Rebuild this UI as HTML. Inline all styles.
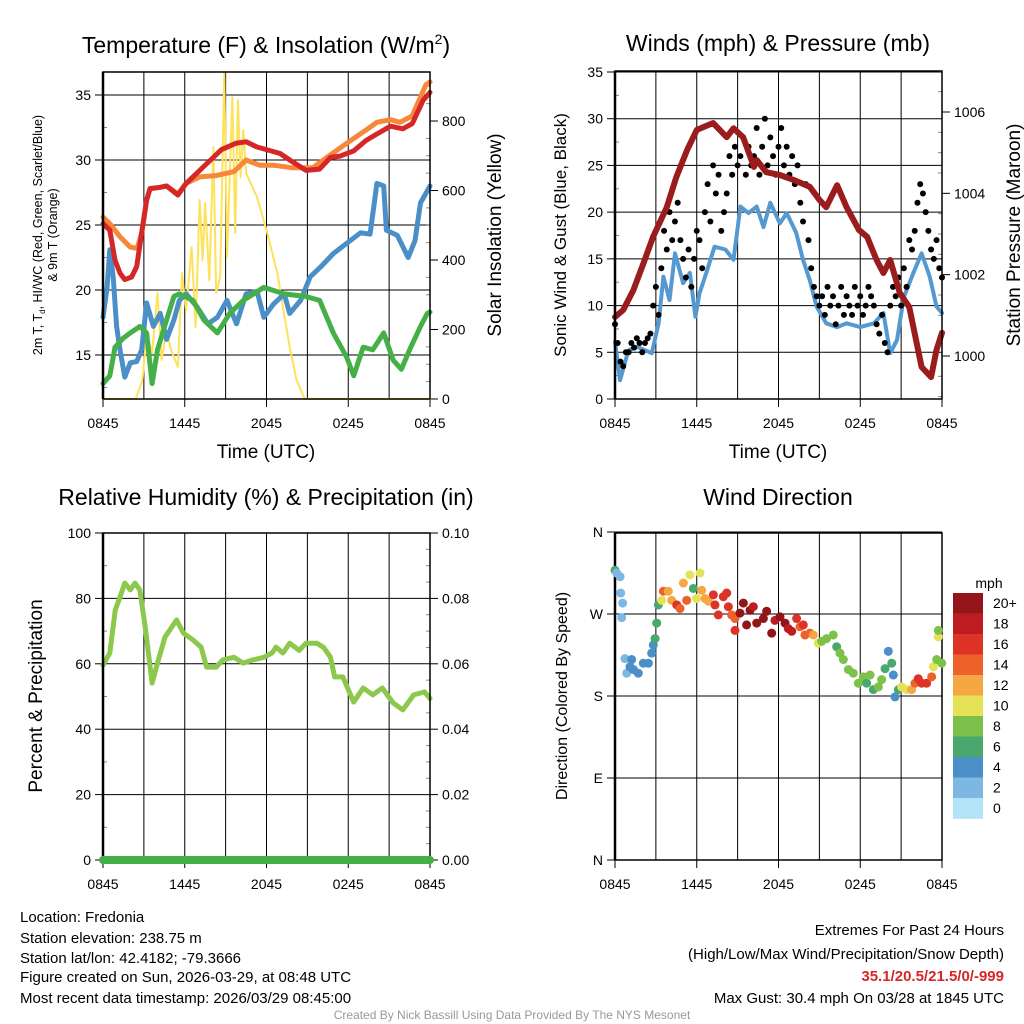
<!DOCTYPE html>
<html><head><meta charset="utf-8"><style>
html,body{margin:0;padding:0;background:#fff;}
svg{display:block;font-family:"Liberation Sans",Arial,sans-serif;}
</style></head><body>
<svg id="c" width="1024" height="1024" viewBox="0 0 1024 1024" xmlns="http://www.w3.org/2000/svg">
<g id="text">
<text x="266" y="53" font-size="23" text-anchor="middle">Temperature (F) &amp; Insolation (W/m<tspan font-size="14" dy="-9">2</tspan><tspan dy="9">)</tspan></text>
<text x="778" y="51" font-size="23" text-anchor="middle">Winds (mph) &amp; Pressure (mb)</text>
<text x="266" y="505" font-size="23" text-anchor="middle">Relative Humidity (%) &amp; Precipitation (in)</text>
<text x="778" y="505" font-size="23" text-anchor="middle">Wind Direction</text>
<text x="266" y="458" font-size="19" text-anchor="middle">Time (UTC)</text>
<text x="778" y="458" font-size="19" text-anchor="middle">Time (UTC)</text>
<text transform="translate(42,235) rotate(-90)" font-size="12.5" text-anchor="middle">2m T, T<tspan font-size="8" dy="3">d</tspan><tspan dy="-3">, HI/WC (Red, Green, Scarlet/Blue)</tspan></text>
<text transform="translate(57,235) rotate(-90)" font-size="12.5" text-anchor="middle">&amp; 9m T (Orange)</text>
<text transform="translate(501,235) rotate(-90)" font-size="19" text-anchor="middle">Solar Insolation (Yellow)</text>
<text transform="translate(566,235) rotate(-90)" font-size="17" text-anchor="middle">Sonic Wind &amp; Gust (Blue, Black)</text>
<text transform="translate(1020,235) rotate(-90)" font-size="19" text-anchor="middle">Station Pressure (Maroon)</text>
<text transform="translate(42,696) rotate(-90)" font-size="19" text-anchor="middle">Percent &amp; Precipitation</text>
<text transform="translate(567,696) rotate(-90)" font-size="16" text-anchor="middle">Direction (Colored By Speed)</text>
<text x="989" y="588" font-size="14" text-anchor="middle">mph</text>
<g font-size="15">
<text x="20" y="922">Location: Fredonia</text>
<text x="20" y="943">Station elevation: 238.75 m</text>
<text x="20" y="963">Station lat/lon: 42.4182; -79.3666</text>
<text x="20" y="982">Figure created on Sun, 2026-03-29, at 08:48 UTC</text>
<text x="20" y="1003">Most recent data timestamp: 2026/03/29 08:45:00</text>
</g>
<g font-size="15" text-anchor="end">
<text x="1004" y="935">Extremes For Past 24 Hours</text>
<text x="1004" y="959">(High/Low/Max Wind/Precipitation/Snow Depth)</text>
<text x="1004" y="981" fill="#d62728" font-weight="bold">35.1/20.5/21.5/0/-999</text>
<text x="1004" y="1003">Max Gust: 30.4 mph On 03/28 at 1845 UTC</text>
</g>
<text x="512" y="1019" font-size="12" fill="#999" text-anchor="middle">Created By Nick Bassill Using Data Provided By The NYS Mesonet</text>
</g>
</svg>
<script>
// ---- data (hours since 0845 UTC) ----
var xTickLabels=["0845","1445","2045","0245","0845"];
var redT_h=[0,0.5,0.88,1.25,1.6,2.1,2.47,2.84,3.2,3.45,4.2,4.67,5.5,6.1,6.9,7.9,8.7,9.8,10.5,11.3,12,13,13.7,14.9,15.9,16.7,17.4,18.4,19.3,20.1,21.1,22,22.7,23.5,24];
var redT_v=[25.1,24.6,22.3,21.3,20.8,21,21.8,24.4,26.9,27.8,27.9,28,27.3,28.2,29,30,30.8,31.3,31.4,31,30.8,30.5,30,29.2,29.3,30.2,30.3,30.7,31.5,32,32.6,32.4,32.8,34.6,35.2];
var orgT_h=[0,0.5,1.25,2,2.5,2.84,3.2,3.45,4.2,4.67,5.5,6.1,7.1,8.3,9.6,10.5,11.5,12.5,13.9,15.4,16.7,17.9,19.3,20.1,21.1,21.8,22.7,23.7,24];
var orgT_v=[25.6,25.1,24.1,23.3,23.2,24.4,26.9,27.8,27.9,28,27.4,28.2,28.7,28.8,29.1,30,29.6,29.6,29.4,29.4,30.4,31.3,32.3,32.9,33.1,32.9,33.4,35.8,36];
var blue_h=[0,0.3,0.5,0.75,1,1.25,1.6,2,2.47,2.84,3.2,3.7,4.2,4.67,5.2,5.6,6.1,6.9,7.7,8.4,9.1,9.8,10.5,11.3,11.8,12.5,13.3,13.7,14.5,15.2,16,16.9,17.9,18.9,19.6,20.1,20.6,20.8,21.6,22.4,22.9,23.3,24];
var blue_v=[17.9,20.2,23.1,21,17.2,15.4,13.3,14.4,14.5,15.4,19,17.2,18.2,16.2,17.7,19.2,19.7,18.7,17.4,17.9,19.2,17.4,19.7,19.9,17.9,18.9,19.7,18.2,19.2,21,21.8,22.8,23.6,24.4,24.3,28.2,28,24.6,24.2,22.5,23.8,26.7,28];
var green_h=[0,0.5,0.88,1.5,2,2.7,3.2,3.6,4,4.67,5.2,5.6,6.6,7.4,8.4,9.3,10.3,11.8,13.3,14.9,15.9,16.9,17.9,18.4,19.1,19.8,20.6,21.3,21.9,22.5,23.3,23.8,24];
var green_v=[12.8,13.4,15.6,16.3,16.7,17.2,16.7,12.8,15.4,17.7,19.5,19.7,19.2,17.7,16.7,18.2,19.2,20.2,19.7,19.5,19.2,16.7,14.8,13.4,15.6,15.4,16.7,14.6,13.9,15.4,17.2,18.2,18.3];
var sol_h=[0,2.4,2.9,3.2,3.6,4,4.3,4.67,5,5.5,5.8,6.1,6.5,6.8,7.1,7.3,7.5,7.8,8.1,8.3,8.6,8.9,9.1,9.5,9.7,9.9,10.1,10.3,10.5,11.3,12,12.8,13.2,13.7,14.2,14.8,24];
var sol_v=[0,0,55,190,132,305,112,198,141,92,362,256,437,207,573,400,564,342,725,305,351,938,409,869,478,860,639,774,650,581,486,362,265,150,55,0,0];
var wind_h=[0,0.37,0.98,1.6,2.7,3.2,3.55,4,4.4,5,5.5,5.9,6.2,6.7,7.3,8.1,8.7,9.2,9.8,10.4,10.9,11.4,12.1,12.6,13.3,13.8,14.3,14.8,15.5,16.3,17,18,19,19.7,20.2,20.7,21.2,21.9,22.5,23.1,23.6,24];
var wind_v=[6.1,2,5.2,5.6,4.9,8.1,13.1,10.6,15.6,12.4,13.5,8.8,11.3,13.5,16.3,16,14.9,20.6,19.9,20.6,18.4,21,18.8,19.9,17.8,14.9,12.7,9.9,8.1,7.7,8.1,7.7,8.1,9.2,4.9,6.3,10.9,13.5,15.6,13.1,9.9,9.2];
var pres_h=[0,0.6,1.35,2.1,2.8,3.8,4.5,5.3,6,7.2,8.2,8.7,9.4,10.2,10.4,11.1,12.1,13.1,14.3,15,15.5,16.3,17,17.9,18.5,19.2,19.7,20.2,20.9,21.6,22.5,23.2,23.6,24];
var pres_v=[1000.96,1001.13,1001.62,1002.29,1002.93,1003.66,1004.4,1005.07,1005.56,1005.73,1005.38,1005.6,1005.38,1004.65,1004.82,1004.52,1004.45,1004.33,1004.16,1003.84,1003.66,1004.2,1003.66,1003.1,1002.93,1002.36,1002.04,1002.36,1001.55,1001.2,999.73,999.48,1000.15,1000.57];
var gust_v=[8,6,4,3.5,5,5,6,5.5,6.5,6,5,6,6.5,7,10,12,9,14,18,16,20,17,19,21,17,15,13,16,12,15,18,17,14,20,23,19,25,22,24,18,20,22,26,24,27,25,26,28,24,27,25,26,29,24,27,30,25,28,26,24,27,29,25,27,24,26,23,25,21,19,23,17,14,12,11,10,11,9,12,10,11,8,10,12,9,11,10,9,12,10,11,9,10,12,11,10,8,7,9,6,5,10,12,11,13,10,14,12,17,16,18,21,23,22,20,18,16,15,17,14,13];
var rh_h=[0,0.5,0.9,1.25,1.6,2,2.35,2.7,3.1,3.6,4,4.55,5.4,5.9,6.6,7.2,7.6,8.3,8.8,9.6,10.3,11,11.8,12.4,12.7,13.2,13.7,14.4,14.9,15.7,16.2,16.7,17,17.6,18.4,19.1,19.8,20.5,21.3,22,22.8,23.6,24];
var rh_v=[59.6,63.3,76.5,80.4,84.7,82.6,84.7,82.6,71.3,54.1,60.2,68.2,73.4,69.4,67.3,65.1,59,59,61.2,62,60.2,61.2,62,63.3,65.1,63.3,66.3,64.1,66.3,66.3,65,62,56,56,48.3,52.6,50.5,52.6,48,45.9,50.5,51.4,49.4];
var precip_v=[0,0];
var dir_h=[0,0.12,0.37,0.42,0.56,0.49,0.73,0.86,1.22,1.1,1.35,1.71,2.08,2.45,2.69,2.81,2.94,3.06,3.18,3.43,3.55,3.91,4.16,4.53,4.77,5.02,5.26,5.5,5.75,5.99,6.24,6.36,6.61,6.85,7.22,7.34,7.58,7.95,8.2,8.32,8.56,8.81,8.81,9.17,9.42,9.66,9.91,10.15,10.4,10.89,11.13,11.5,11.74,12.11,12.48,12.72,12.97,13.33,13.58,13.82,13.94,14.31,14.56,14.92,15.17,15.53,16.02,16.27,16.51,16.76,17.13,17.49,17.86,18.23,18.47,18.72,18.96,19.33,19.57,19.82,20.06,20.31,20.43,20.55,20.8,21.04,21.41,21.77,22.02,22.26,22.51,22.87,23.24,23.36,23.61,23.73,23.73,23.98];
var dir_deg=[318,315,311,293,282,266,221,205,220,212,209,205,216,216,227,236,243,260,280,285,295,295,285,280,276,304,285,313,298,287,315,296,287,284,291,280,269,289,293,278,269,265,252,271,282,258,274,278,260,265,273,249,263,267,260,254,251,265,256,258,247,249,247,238,240,243,247,234,227,220,209,205,194,201,194,203,187,190,198,210,229,216,203,179,187,190,187,187,194,199,194,194,201,212,220,245,252,216];
var dir_spd=[7,3,3,3,3,3,3,3,5,5,5,5,5,5,5,5,7,7,7,11,15,13,13,17,15,13,15,11,7,11,11,13,13,13,17,17,17,17,17,17,15,15,17,21,21,21,21,19,21,21,21,21,19,21,21,19,19,17,15,17,15,15,13,11,9,9,9,7,9,9,9,9,9,9,7,9,7,9,9,7,5,7,5,5,7,11,11,13,15,17,17,17,15,11,9,11,9,9];
var cbLabels=["20+","18","16","14","12","10","8","6","4","2","0"];
var cbColors=["#931519","#bd1c23","#dc3326","#ee6128","#f5a742","#e6e257","#7cc24a","#4aa86f","#4a8fc7","#7db8e3","#b3e3f7"];

var NS="http://www.w3.org/2000/svg", svg=document.getElementById('c');
function mk(tag,attrs,parent){var e=document.createElementNS(NS,tag);for(var k in attrs)e.setAttribute(k,attrs[k]);(parent||svg).appendChild(e);return e;}
function lin(d0,d1,r0,r1){return function(v){return r0+(v-d0)*(r1-r0)/(d1-d0);};}
function path(xs,ys,fx,fy){var d='';for(var i=0;i<xs.length;i++)d+=(i?'L':'M')+fx(xs[i]).toFixed(1)+','+fy(ys[i]).toFixed(1);return d;}

function frame(x0,x1,y0,y1,name){
  var g=mk('g',{});
  
  
  var fx=lin(0,24,x0,x1);
  for(var h=3;h<24;h+=3){var l=mk('line',{x1:fx(h),x2:fx(h),y1:y0,y2:y1,stroke:'#000','stroke-width':1},g);
    
    }
  for(var i=0;i<xTickLabels.length;i++){var h2=i*6;
    var t=mk('text',{x:fx(h2),y:y1+29,'font-size':14,'text-anchor':'middle'},g);t.textContent=xTickLabels[i];
    
    
    mk('line',{x1:fx(h2),x2:fx(h2),y1:y1,y2:y1+8,stroke:'#000'},g);}
  return {g:g,fx:fx};
}
function box(x0,x1,y0,y1){var r=mk('rect',{x:x0,y:y0,width:x1-x0,height:y1-y0,fill:'none',stroke:'#000','stroke-width':1.5});
  
  
  mk('line',{x1:x0,x2:x0,y1:y0,y2:y1,stroke:'#000','stroke-width':2.5});}
function yAxis(g,vals,labels,fy,x0,x1,side,grid,minor){
  if(minor)for(var j=0;j<minor.length;j++){var yy=fy(minor[j]);
    if(side==='left')mk('line',{x1:x0,x2:x0+4,y1:yy,y2:yy,stroke:'#888'},g);else mk('line',{x1:x1,x2:x1-4,y1:yy,y2:yy,stroke:'#888'},g);}
  for(var i=0;i<vals.length;i++){var y=fy(vals[i]);
    if(grid)mk('line',{x1:x0,x2:x1,y1:y,y2:y,stroke:'#000','stroke-width':1},g);
    var t;
    if(side==='left'){mk('line',{x1:x0-8,x2:x0,y1:y,y2:y,stroke:'#000'},g);t=mk('text',{x:x0-12,y:y+5,'font-size':14,'text-anchor':'end'},g);}
    else{mk('line',{x1:x1,x2:x1+8,y1:y,y2:y,stroke:'#000'},g);t=mk('text',{x:x1+12,y:y+5,'font-size':14,'text-anchor':'start'},g);}
    t.textContent=labels[i];
    
    }
}
function series(d,color,w,name,g){var p=mk('path',{d:d,fill:'none',stroke:color,'stroke-width':w,'stroke-linejoin':'round','stroke-linecap':'round'},g);
  
  }

// Panel 1
(function(){var x0=103,x1=430,y0=72,y1=399;var F=frame(x0,x1,y0,y1,'temperature-panel');
 var fy=lin(15,35,355,95), fs=lin(0,800,399,121);
 yAxis(F.g,[15,20,25,30,35],['15','20','25','30','35'],fy,x0,x1,'left',true,[12.5,17.5,22.5,27.5,32.5]);
 yAxis(F.g,[0,200,400,600,800],['0','200','400','600','800'],fs,x0,x1,'right',false,[50,100,150,250,300,350,450,500,550,650,700,750,850,900]);
 series(path(sol_h,sol_v,F.fx,fs),'#fde25a',2,'insolation-line');
 series(path(blue_h,blue_v,F.fx,fy),'#4a8fc7',5,'heat-index-line');
 series(path(green_h,green_v,F.fx,fy),'#45b048',5,'dewpoint-line');
 series(path(orgT_h,orgT_v,F.fx,fy),'#f7883a',5,'temp-9m-line');
 series(path(redT_h,redT_v,F.fx,fy),'#d62728',5,'temp-2m-line');
 box(x0,x1,y0,y1);})();

// Panel 2
(function(){var x0=615,x1=942,y0=71,y1=399;var F=frame(x0,x1,y0,y1,'winds-panel');
 var fy=lin(0,35,399,72), fp=lin(1000,1006,356,112);
 yAxis(F.g,[0,5,10,15,20,25,30,35],['0','5','10','15','20','25','30','35'],fy,x0,x1,'left',true,[2.5,7.5,12.5,17.5,22.5,27.5,32.5]);
 yAxis(F.g,[1000,1002,1004,1006],['1000','1002','1004','1006'],fp,x0,x1,'right',false,[999,999.5,1000.5,1001,1001.5,1002.5,1003,1003.5,1004.5,1005,1005.5,1006.5,1007]);
 series(path(wind_h,wind_v,F.fx,fy),'#5599d0',4,'sonic-wind-line');
 for(var i=0;i<gust_v.length;i++){var c=mk('circle',{cx:F.fx(i*0.2),cy:fy(gust_v[i]),r:3,fill:'#000'});
   
   }
 series(path(pres_h,pres_v,F.fx,fp),'#9b1c1c',6,'pressure-line');
 box(x0,x1,y0,y1);})();

// Panel 3
(function(){var x0=103,x1=430,y0=533,y1=860;var F=frame(x0,x1,y0,y1,'humidity-panel');
 var fy=lin(0,100,860,533), fr=lin(0,0.1,860,533);
 yAxis(F.g,[0,20,40,60,80,100],['0','20','40','60','80','100'],fy,x0,x1,'left',true,[10,30,50,70,90]);
 yAxis(F.g,[0,0.02,0.04,0.06,0.08,0.1],['0.00','0.02','0.04','0.06','0.08','0.10'],fr,x0,x1,'right',false,[0.005,0.01,0.015,0.025,0.03,0.035,0.045,0.05,0.055,0.065,0.07,0.075,0.085,0.09,0.095]);
 series(path(rh_h,rh_v,F.fx,fy),'#8cc84b',5,'humidity-line');
 box(x0,x1,y0,y1);
 series(path([0,24],precip_v,F.fx,fr),'#45b048',8,'precipitation-line');})();

// Panel 4
(function(){var x0=615,x1=942,y0=533,y1=860;var F=frame(x0,x1,y0,y1,'wind-direction-panel');
 var fy=lin(0,360,860,532);
 yAxis(F.g,[0,90,180,270,360],['N','E','S','W','N'],fy,x0,x1,'left',true,null);
 box(x0,x1,y0,y1);
 for(var i=0;i<dir_h.length;i++){var b=Math.min(10,Math.floor(dir_spd[i]/2));
   var c=mk('circle',{cx:F.fx(dir_h[i]),cy:fy(dir_deg[i]),r:4.5,fill:cbColors[10-b]});
   
   }
 var cb=mk('g',{});
 
 
 for(var k=0;k<cbColors.length;k++){var y=593+k*20.5;
   mk('rect',{x:953,y:y,width:30,height:20.8,fill:cbColors[k]},cb);
   var t=mk('text',{x:993,y:y+15,'font-size':14},cb);t.textContent=cbLabels[k];
   
   }
})();
</script>
</body></html>
